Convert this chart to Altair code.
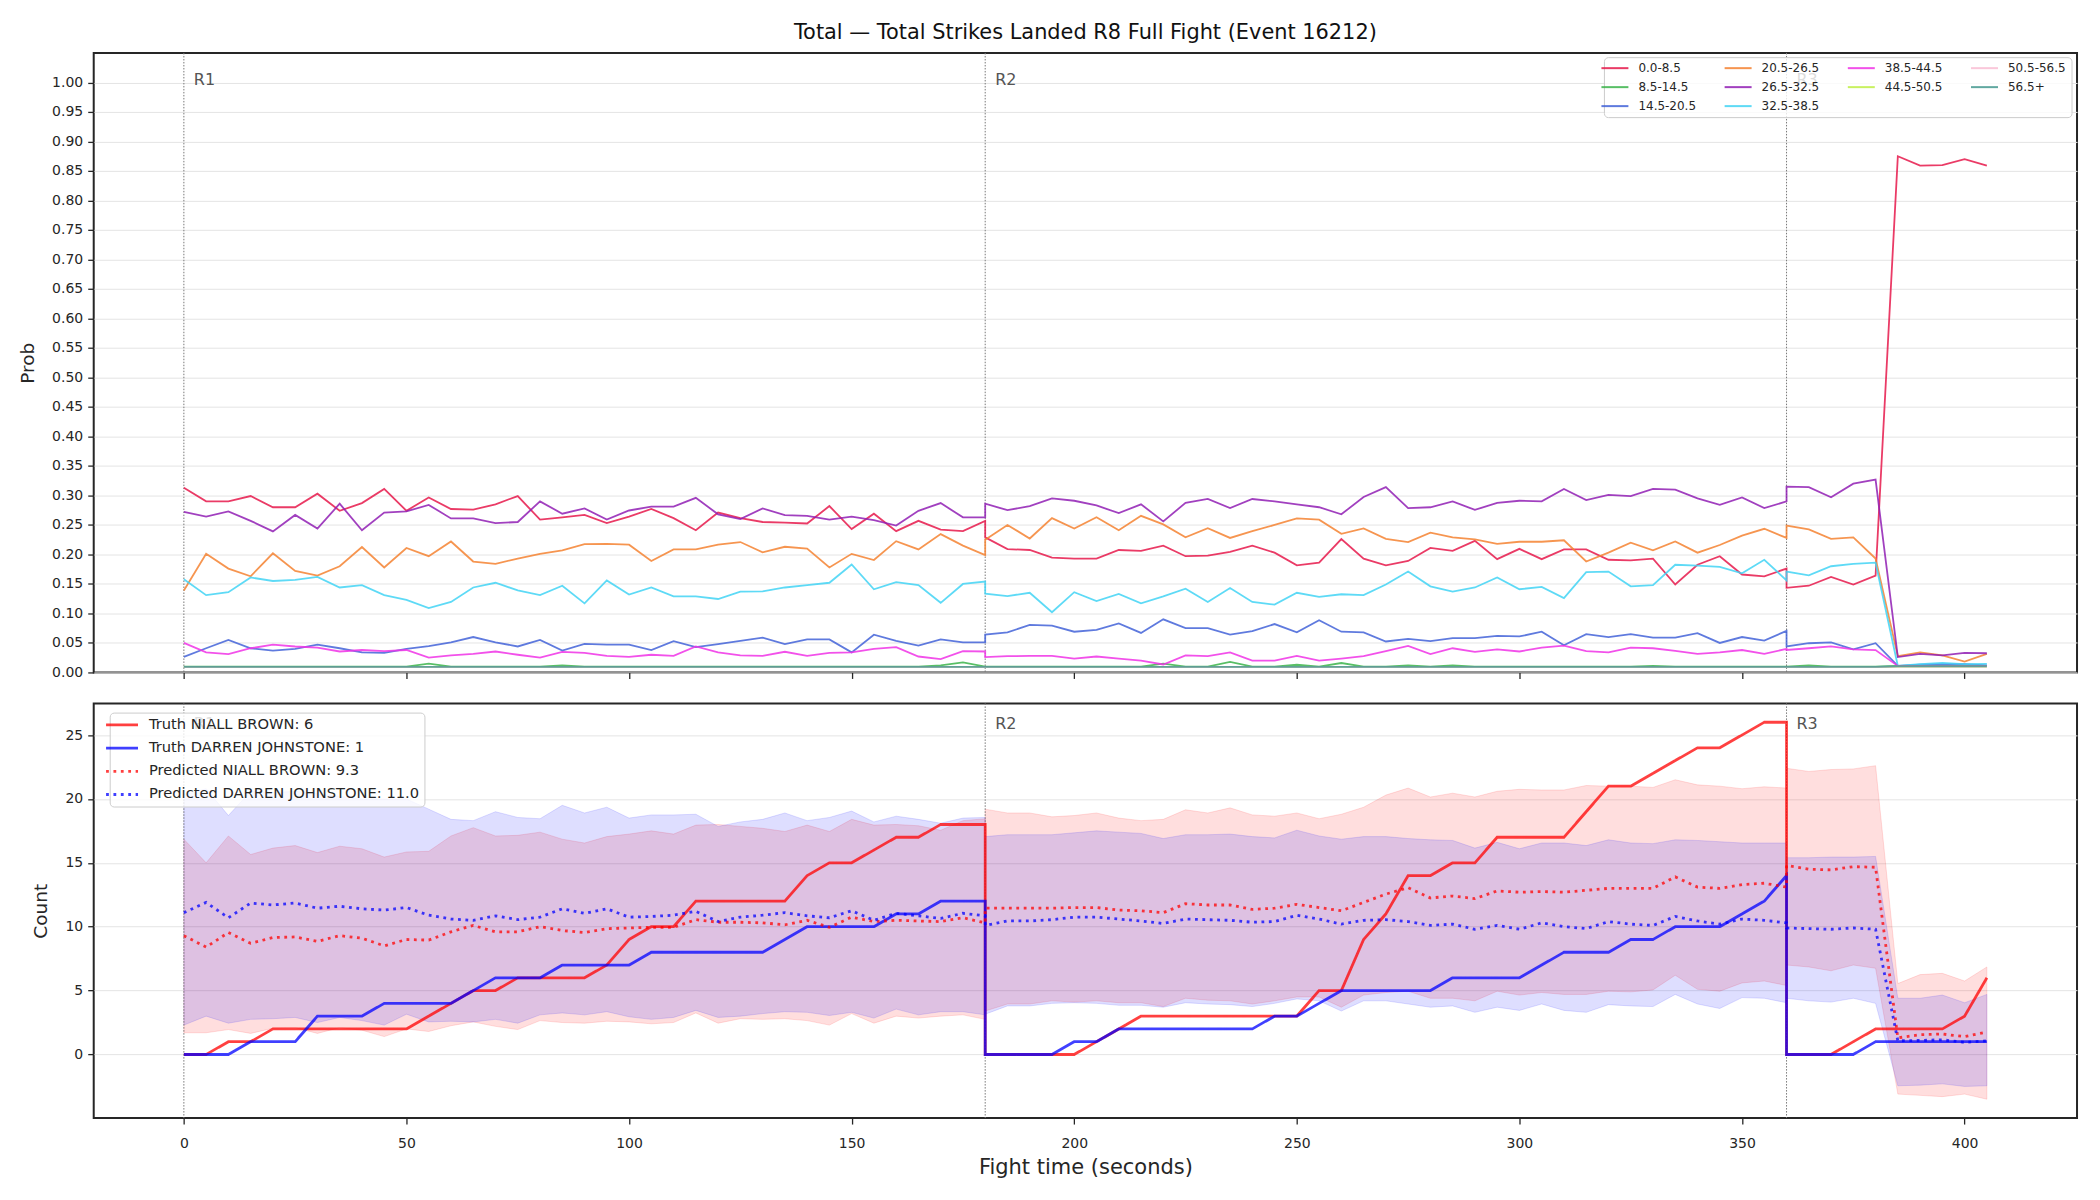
import altair as alt
import pandas as pd

FONT = "DejaVu Sans"
TITLE = "Total \u2014 Total Strikes Landed R8 Full Fight (Event 16212)"

# ---------------- sample grid (seconds) ----------------
T_R1 = list(range(0, 181, 5))      # 37 samples
T_R2 = list(range(180, 361, 5))    # 37 samples
T_R3 = list(range(360, 406, 5))    # 10 samples
TIMES = T_R1 + T_R2 + T_R3
ROUND_OF = ["R1"] * len(T_R1) + ["R2"] * len(T_R2) + ["R3"] * len(T_R3)

ROUND_STARTS = [0, 180, 360]
ROUND_NAMES = ["R1", "R2", "R3"]
X_TICKS = [0, 50, 100, 150, 200, 250, 300, 350, 400]
PROB_TICKS = [0.0, 0.05, 0.1, 0.15, 0.2, 0.25, 0.3, 0.35, 0.4, 0.45, 0.5, 0.55, 0.6,
              0.65, 0.7, 0.75, 0.8, 0.85, 0.9, 0.95, 1.0]
COUNT_TICKS = [0, 5, 10, 15, 20, 25]

# ---------------- top panel: bin probabilities ----------------
BIN_LABELS = ["0.0-8.5", "8.5-14.5", "14.5-20.5", "20.5-26.5", "26.5-32.5",
              "32.5-38.5", "38.5-44.5", "44.5-50.5", "50.5-56.5", "56.5+"]
BIN_COLORS = ["#e6194b", "#3cb44b", "#4363d8", "#f58231", "#911eb4",
              "#42d4f4", "#f032e6", "#bfef45", "#fabed4", "#469990"]
# legend reads row by row (4 columns) so that the columns match the reference
LEGEND_ORDER = ["0.0-8.5", "20.5-26.5", "38.5-44.5", "50.5-56.5",
                "8.5-14.5", "26.5-32.5", "44.5-50.5", "56.5+",
                "14.5-20.5", "32.5-38.5"]

P_0_8 = ([0.313, 0.290, 0.290, 0.299, 0.280, 0.280, 0.303, 0.274, 0.287, 0.311, 0.274, 0.2965, 0.277,
          0.276, 0.285, 0.299, 0.259, 0.263, 0.267, 0.253, 0.264, 0.277, 0.2615, 0.241, 0.271, 0.2615,
          0.255, 0.254, 0.2525, 0.282, 0.243, 0.269, 0.2395, 0.257, 0.242, 0.2395, 0.257]
         + [0.229, 0.209, 0.2075, 0.1945, 0.193, 0.193, 0.2075, 0.206, 0.215, 0.197, 0.198, 0.2045, 0.215,
            0.203, 0.1815, 0.186, 0.226, 0.193, 0.1815, 0.189, 0.211, 0.206, 0.223, 0.192, 0.2095, 0.192,
            0.2085, 0.2085, 0.191, 0.190, 0.193, 0.149, 0.1825, 0.197, 0.166, 0.163, 0.176]
         + [0.1435, 0.147, 0.162, 0.149, 0.164, 0.875, 0.859, 0.860, 0.870, 0.859])
P_8_14 = ([0.010, 0.010, 0.010, 0.010, 0.010, 0.010, 0.010, 0.010, 0.010, 0.010, 0.010, 0.015, 0.010,
           0.010, 0.010, 0.010, 0.010, 0.012, 0.010, 0.010, 0.010, 0.010, 0.010, 0.010, 0.010, 0.010,
           0.010, 0.010, 0.010, 0.010, 0.010, 0.010, 0.010, 0.010, 0.012, 0.017, 0.010]
          + [0.010, 0.010, 0.010, 0.010, 0.010, 0.010, 0.010, 0.010, 0.015, 0.010, 0.010, 0.018, 0.010,
             0.010, 0.013, 0.010, 0.016, 0.010, 0.010, 0.012, 0.010, 0.012, 0.010, 0.010, 0.010, 0.010,
             0.010, 0.010, 0.010, 0.010, 0.011, 0.010, 0.010, 0.010, 0.010, 0.010, 0.010]
          + [0.010, 0.012, 0.010, 0.010, 0.010, 0.011, 0.011, 0.011, 0.011, 0.011])
P_14_20 = ([0.0265, 0.041, 0.055, 0.041, 0.037, 0.040, 0.047, 0.041, 0.034, 0.033, 0.040, 0.0445, 0.051,
            0.060, 0.051, 0.044, 0.055, 0.037, 0.0485, 0.047, 0.047, 0.038, 0.053, 0.043, 0.048, 0.0535,
            0.059, 0.048, 0.056, 0.056, 0.034, 0.064, 0.0535, 0.0455, 0.056, 0.051, 0.051]
           + [0.064, 0.068, 0.0805, 0.0795, 0.069, 0.072, 0.083, 0.067, 0.090, 0.075, 0.075, 0.064, 0.070,
              0.082, 0.068, 0.0885, 0.069, 0.068, 0.0525, 0.057, 0.053, 0.058, 0.058, 0.062, 0.061, 0.069,
              0.046, 0.065, 0.060, 0.065, 0.059, 0.059, 0.0665, 0.050, 0.060, 0.054, 0.0705]
           + [0.044, 0.0495, 0.051, 0.039, 0.0495, 0.011, 0.013, 0.014, 0.014, 0.012])
P_20_26 = ([0.139, 0.201, 0.176, 0.163, 0.202, 0.172, 0.164, 0.180, 0.2125, 0.178, 0.211, 0.197, 0.222,
            0.188, 0.184, 0.193, 0.201, 0.207, 0.2175, 0.218, 0.2165, 0.189, 0.2085, 0.2085, 0.2165, 0.221,
            0.2035, 0.213, 0.210, 0.178, 0.201, 0.1905, 0.2225, 0.2085, 0.2345, 0.215, 0.199]
           + [0.225, 0.250, 0.227, 0.2615, 0.244, 0.263, 0.241, 0.2655, 0.251, 0.229, 0.2445, 0.228, 0.2395,
              0.250, 0.261, 0.259, 0.235, 0.244, 0.2265, 0.221, 0.237, 0.229, 0.2255, 0.218, 0.2215, 0.2215,
              0.224, 0.188, 0.203, 0.220, 0.207, 0.222, 0.203, 0.216, 0.232, 0.2435, 0.228]
           + [0.249, 0.2425, 0.2265, 0.229, 0.193, 0.0275, 0.034, 0.029, 0.0185, 0.0315])
P_26_32 = ([0.272, 0.264, 0.273, 0.257, 0.239, 0.267, 0.244, 0.286, 0.241, 0.271, 0.273, 0.284, 0.261,
            0.261, 0.253, 0.255, 0.290, 0.269, 0.278, 0.259, 0.2745, 0.281, 0.281, 0.296, 0.268, 0.260,
            0.278, 0.2665, 0.2655, 0.259, 0.264, 0.258, 0.249, 0.274, 0.287, 0.263, 0.263]
           + [0.286, 0.275, 0.282, 0.295, 0.291, 0.283, 0.270, 0.285, 0.256, 0.2875, 0.294, 0.2785, 0.294,
              0.290, 0.285, 0.280, 0.268, 0.2975, 0.314, 0.2785, 0.280, 0.290, 0.2755, 0.2875, 0.291, 0.290,
              0.311, 0.292, 0.301, 0.299, 0.311, 0.310, 0.295, 0.284, 0.2965, 0.2785, 0.290]
           + [0.315, 0.314, 0.297, 0.320, 0.327, 0.026, 0.0315, 0.029, 0.033, 0.0325])
P_32_38 = ([0.158, 0.131, 0.136, 0.161, 0.155, 0.157, 0.162, 0.144, 0.148, 0.131, 0.123, 0.109, 0.1195,
            0.144, 0.152, 0.139, 0.131, 0.147, 0.117, 0.156, 0.132, 0.144, 0.129, 0.129, 0.1245, 0.137,
            0.1375, 0.144, 0.148, 0.152, 0.183, 0.141, 0.153, 0.148, 0.118, 0.150, 0.154]
           + [0.1335, 0.1295, 0.135, 0.102, 0.136, 0.121, 0.133, 0.117, 0.129, 0.142, 0.1195, 0.143, 0.1195,
              0.115, 0.135, 0.128, 0.1325, 0.131, 0.149, 0.171, 0.146, 0.137, 0.144, 0.161, 0.141, 0.145,
              0.126, 0.170, 0.171, 0.146, 0.148, 0.1825, 0.181, 0.179, 0.168, 0.191, 0.156]
           + [0.171, 0.1645, 0.180, 0.184, 0.186, 0.011, 0.014, 0.016, 0.014, 0.0145])
P_38_44 = ([0.050, 0.034, 0.031, 0.041, 0.047, 0.044, 0.042, 0.0355, 0.038, 0.036, 0.038, 0.025, 0.029,
            0.0315, 0.0355, 0.030, 0.025, 0.035, 0.033, 0.028, 0.0265, 0.030, 0.028, 0.044, 0.034, 0.029,
            0.028, 0.035, 0.028, 0.033, 0.034, 0.040, 0.043, 0.027, 0.0225, 0.036, 0.0355]
           + [0.026, 0.0275, 0.028, 0.028, 0.0235, 0.027, 0.0235, 0.020, 0.0135, 0.029, 0.0275, 0.034, 0.020,
              0.020, 0.028, 0.020, 0.0235, 0.0275, 0.036, 0.045, 0.031, 0.041, 0.035, 0.039, 0.0355, 0.042,
              0.0455, 0.036, 0.034, 0.042, 0.041, 0.0365, 0.0315, 0.034, 0.038, 0.0315, 0.040]
           + [0.038, 0.041, 0.044, 0.039, 0.038, 0.011, 0.011, 0.011, 0.011, 0.011])
P_44_50 = ([0.009, 0.009, 0.009, 0.009, 0.009, 0.009, 0.009, 0.009, 0.009, 0.009, 0.009, 0.009, 0.009,
            0.009, 0.009, 0.009, 0.009, 0.009, 0.009, 0.009, 0.009, 0.009, 0.009, 0.009, 0.009, 0.009,
            0.009, 0.009, 0.009, 0.009, 0.009, 0.009, 0.009, 0.009, 0.009, 0.009, 0.009]
           + [0.009, 0.009, 0.009, 0.009, 0.009, 0.009, 0.009, 0.009, 0.009, 0.009, 0.009, 0.009, 0.009,
              0.009, 0.009, 0.009, 0.009, 0.009, 0.009, 0.009, 0.009, 0.009, 0.009, 0.009, 0.009, 0.009,
              0.009, 0.009, 0.009, 0.009, 0.009, 0.009, 0.009, 0.009, 0.009, 0.009, 0.009]
           + [0.009, 0.009, 0.009, 0.009, 0.009, 0.010, 0.010, 0.010, 0.010, 0.010])
P_50_56 = ([0.009, 0.009, 0.009, 0.009, 0.009, 0.009, 0.009, 0.009, 0.009, 0.009, 0.009, 0.009, 0.009,
            0.009, 0.009, 0.009, 0.009, 0.009, 0.009, 0.009, 0.009, 0.009, 0.009, 0.009, 0.009, 0.009,
            0.009, 0.009, 0.009, 0.009, 0.009, 0.009, 0.009, 0.009, 0.009, 0.009, 0.009]
           + [0.009, 0.009, 0.009, 0.009, 0.009, 0.009, 0.009, 0.009, 0.009, 0.009, 0.009, 0.009, 0.009,
              0.009, 0.009, 0.009, 0.009, 0.009, 0.009, 0.009, 0.009, 0.009, 0.009, 0.009, 0.009, 0.009,
              0.009, 0.009, 0.009, 0.009, 0.009, 0.009, 0.009, 0.009, 0.009, 0.009, 0.009]
           + [0.009, 0.009, 0.009, 0.009, 0.009, 0.010, 0.010, 0.010, 0.010, 0.010])
P_56_UP = ([0.0095, 0.0095, 0.0095, 0.0095, 0.0095, 0.0095, 0.0095, 0.0095, 0.0095, 0.0095, 0.0095,
            0.0095, 0.0095, 0.0095, 0.0095, 0.0095, 0.0095, 0.0095, 0.0095, 0.0095, 0.0095, 0.0095,
            0.0095, 0.0095, 0.0095, 0.0095, 0.0095, 0.0095, 0.0095, 0.0095, 0.0095, 0.0095, 0.0095,
            0.0095, 0.0095, 0.0095, 0.0095]
           + [0.0095, 0.0095, 0.0095, 0.0095, 0.0095, 0.0095, 0.0095, 0.0095, 0.0095, 0.0095, 0.0095,
              0.0095, 0.0095, 0.0095, 0.0095, 0.0095, 0.0095, 0.0095, 0.0095, 0.0095, 0.0095, 0.0095,
              0.0095, 0.0095, 0.0095, 0.0095, 0.0095, 0.0095, 0.0095, 0.0095, 0.0095, 0.0095, 0.0095,
              0.0095, 0.0095, 0.0095, 0.0095]
           + [0.0095, 0.0095, 0.0095, 0.0095, 0.0095, 0.0105, 0.0105, 0.0105, 0.0105, 0.0105])
PROB_SERIES = [P_0_8, P_8_14, P_14_20, P_20_26, P_26_32, P_32_38, P_38_44, P_44_50, P_50_56, P_56_UP]

# ---------------- bottom panel: cumulative counts ----------------
SERIES_NAMES = ["Truth NIALL BROWN: 6", "Truth DARREN JOHNSTONE: 1",
                "Predicted NIALL BROWN: 9.3", "Predicted DARREN JOHNSTONE: 11.0"]

TRUTH_A = ([0, 0, 1, 1, 2, 2, 2, 2, 2, 2, 2, 3, 4, 5, 5, 6, 6, 6, 6, 7, 9, 10, 10, 12, 12, 12, 12, 12,
            14, 15, 15, 16, 17, 17, 18, 18, 18]
           + [0, 0, 0, 0, 0, 1, 2, 3, 3, 3, 3, 3, 3, 3, 3, 5, 5, 9, 11, 14, 14, 15, 15, 17, 17, 17, 17,
              19, 21, 21, 22, 23, 24, 24, 25, 26, 26]
           + [0, 0, 0, 1, 2, 2, 2, 2, 3, 6])
TRUTH_B = ([0, 0, 0, 1, 1, 1, 3, 3, 3, 4, 4, 4, 4, 5, 6, 6, 6, 7, 7, 7, 7, 8, 8, 8, 8, 8, 8, 9,
            10, 10, 10, 10, 11, 11, 12, 12, 12]
           + [0, 0, 0, 0, 1, 1, 2, 2, 2, 2, 2, 2, 2, 3, 3, 4, 5, 5, 5, 5, 5, 6, 6, 6, 6, 7, 8, 8, 8,
              9, 9, 10, 10, 10, 11, 12, 14]
           + [0, 0, 0, 0, 1, 1, 1, 1, 1, 1])
PRED_A = ([9.3, 8.4, 9.55, 8.7, 9.15, 9.2, 8.85, 9.3, 9.1, 8.5, 9.0, 8.95, 9.6, 10.1, 9.6, 9.6, 10.0,
           9.7, 9.55, 9.85, 9.9, 9.95, 9.95, 10.55, 10.35, 10.35, 10.3, 10.15, 10.5, 9.95, 10.75, 10.4,
           10.5, 10.45, 10.4, 10.7, 10.3]
          + [11.45, 11.45, 11.45, 11.45, 11.5, 11.5, 11.3, 11.25, 11.1, 11.8, 11.7, 11.7, 11.35, 11.45,
             11.75, 11.5, 11.25, 11.9, 12.55, 13.05, 12.25, 12.4, 12.2, 12.8, 12.7, 12.75, 12.7, 12.85,
             13.0, 13.0, 13.0, 13.9, 13.1, 13.0, 13.3, 13.4, 13.1]
          + [14.8, 14.5, 14.45, 14.7, 14.65, 1.3, 1.55, 1.6, 1.4, 1.75])
PRED_B = ([11.1, 11.9, 10.7, 11.85, 11.7, 11.85, 11.45, 11.6, 11.4, 11.3, 11.5, 10.9, 10.6, 10.5,
           10.85, 10.55, 10.75, 11.4, 11.05, 11.4, 10.75, 10.8, 10.9, 11.2, 10.4, 10.75, 10.9, 11.1,
           10.85, 10.7, 11.25, 10.5, 11.05, 10.85, 10.65, 11.05, 10.85]
          + [10.1, 10.45, 10.45, 10.55, 10.75, 10.75, 10.6, 10.45, 10.25, 10.6, 10.55, 10.5, 10.35, 10.4,
             10.9, 10.6, 10.2, 10.5, 10.55, 10.4, 10.1, 10.2, 9.8, 10.1, 9.8, 10.3, 10.0, 9.85, 10.4,
             10.2, 10.1, 10.8, 10.45, 10.2, 10.6, 10.5, 10.3]
          + [9.9, 9.85, 9.8, 9.9, 9.8, 1.07, 1.1, 1.15, 0.95, 1.07])
BAND_A_HI = ([16.85, 15.0, 17.1, 15.65, 16.15, 16.35, 15.8, 16.3, 16.1, 15.45, 15.85, 15.9, 17.1, 17.75,
              17.1, 17.15, 17.4, 16.85, 16.55, 17.05, 17.25, 17.5, 17.25, 17.95, 18.0, 17.85, 17.7,
              17.45, 17.95, 17.45, 18.4, 17.95, 18.0, 17.9, 17.55, 18.3, 18.45]
             + [19.2, 18.9, 18.9, 18.6, 18.7, 18.9, 18.5, 18.3, 18.4, 19.15, 18.9, 19.3, 18.75, 18.65,
                18.9, 18.45, 18.8, 19.35, 20.3, 20.85, 20.15, 20.45, 20.15, 20.6, 20.75, 20.7, 20.7,
                21.05, 21.0, 21.0, 20.9, 21.5, 21.1, 21.0, 20.8, 20.95, 20.85]
             + [22.4, 22.15, 22.3, 22.35, 22.6, 5.55, 6.25, 6.35, 5.75, 6.85])
BAND_A_LO = ([1.7, 1.7, 1.95, 1.65, 2.05, 2.1, 1.65, 2.1, 1.9, 1.4, 2.0, 1.8, 2.25, 2.55, 2.2, 1.95,
              2.65, 2.5, 2.45, 2.6, 2.55, 2.4, 2.5, 3.25, 2.45, 2.8, 2.75, 2.8, 2.65, 2.3, 3.2, 2.45,
              3.0, 2.85, 3.0, 3.1, 2.75]
             + [3.4, 3.95, 3.95, 4.2, 4.1, 4.2, 4.05, 4.05, 3.75, 4.4, 4.25, 4.2, 3.95, 4.2, 4.5, 4.5,
                3.7, 4.65, 4.85, 4.95, 4.4, 4.4, 4.2, 4.95, 4.65, 4.85, 4.7, 4.7, 4.95, 4.9, 5.05, 6.2,
                5.1, 4.95, 5.6, 5.75, 5.4]
             + [7.0, 6.85, 6.55, 7.0, 6.75, -3.1, -3.2, -3.3, -3.1, -3.5])
BAND_B_HI = ([20.3, 20.8, 18.7, 20.6, 20.5, 20.6, 20.4, 20.2, 20.0, 20.0, 20.0, 19.2, 18.4, 18.3, 19.0,
              18.55, 18.45, 19.5, 18.9, 19.35, 18.5, 18.75, 18.75, 18.8, 17.85, 18.2, 18.4, 18.9, 18.3,
              18.55, 19.05, 18.2, 18.65, 18.4, 18.1, 18.5, 18.55]
             + [17.05, 17.2, 17.2, 17.2, 17.35, 17.5, 17.4, 17.3, 16.9, 17.2, 17.2, 17.25, 17.05, 16.95,
                17.55, 17.1, 16.85, 17.05, 17.05, 16.9, 16.8, 16.75, 16.15, 16.6, 16.1, 16.55, 16.55,
                16.35, 16.8, 16.55, 16.5, 16.8, 16.75, 16.65, 16.55, 16.55, 16.55]
             + [15.4, 15.4, 15.45, 15.45, 15.5, 4.4, 4.4, 4.65, 4.05, 4.7])
BAND_B_LO = ([2.3, 3.0, 2.45, 2.75, 2.8, 2.9, 2.5, 2.9, 2.65, 2.3, 3.15, 2.55, 2.6, 2.55, 2.75, 2.45,
              3.1, 3.25, 3.1, 3.35, 2.95, 2.75, 2.9, 3.45, 2.9, 3.0, 3.2, 3.35, 3.3, 3.05, 3.3, 2.85,
              3.55, 3.1, 3.35, 3.35, 3.1]
             + [3.15, 3.8, 3.8, 4.0, 4.05, 4.0, 3.85, 3.85, 3.7, 4.05, 3.95, 3.9, 3.75, 4.0, 4.35, 4.2,
                3.4, 4.2, 4.2, 3.95, 3.7, 3.8, 3.3, 3.7, 3.45, 3.95, 3.45, 3.3, 3.9, 3.8, 3.75, 4.7,
                3.95, 3.6, 4.45, 4.4, 4.05]
             + [4.4, 4.2, 4.1, 4.4, 4.0, -2.45, -2.4, -2.3, -2.5, -2.45])
COUNT_SERIES = [TRUTH_A, TRUTH_B, PRED_A, PRED_B]

# ---------------- styling constants ----------------
RED = "#ff0000"
BLUE = "#0000ff"
INK = "#262626"
GRID = "#e4e4e4"

# ---------------- data frames ----------------
top_rows = []
for lab, vals in zip(BIN_LABELS, PROB_SERIES):
    for i, (t, v) in enumerate(zip(TIMES, vals)):
        top_rows.append({"t": t, "p": v, "bin": lab, "idx": i})
top_df = pd.DataFrame(top_rows)

bot_rows = []
for name, vals in zip(SERIES_NAMES, COUNT_SERIES):
    for i, (t, v) in enumerate(zip(TIMES, vals)):
        bot_rows.append({"t": t, "v": v, "series": name, "idx": i})
bot_df = pd.DataFrame(bot_rows)

band_df = pd.DataFrame({"t": TIMES, "rnd": ROUND_OF,
                        "a_lo": BAND_A_LO, "a_hi": BAND_A_HI,
                        "b_lo": BAND_B_LO, "b_hi": BAND_B_HI})
round_df = pd.DataFrame({"t": ROUND_STARTS, "label": ROUND_NAMES})

# ---------------- scales / axes ----------------
W = 1985
H_TOP = 620
H_BOT = 415
x_scale = alt.Scale(domain=[-20.25, 425.25], nice=False, zero=False)
p_scale = alt.Scale(domain=[0, 1.05], nice=False, zero=False)
c_scale = alt.Scale(domain=[-4.975, 27.475], nice=False, zero=False)

common_axis = dict(labelFont=FONT, labelFontSize=14, labelColor=INK, titleFont=FONT,
                   titleColor=INK, titleFontWeight="normal", tickColor=INK, tickSize=6,
                   tickWidth=1.3, domain=False)

x_axis_top = alt.Axis(values=X_TICKS, labels=False, title=None, grid=False, labelPadding=5, **common_axis)
x_axis_bot = alt.Axis(values=X_TICKS, title="Fight time (seconds)", grid=False, labelPadding=12,
                      titleFontSize=21, titlePadding=6, **common_axis)
p_axis = alt.Axis(values=PROB_TICKS, format=".2f", title="Prob", grid=True, gridColor=GRID,
                  labelPadding=5, titleFontSize=18.5, titlePadding=14.5, **common_axis)
c_axis = alt.Axis(values=COUNT_TICKS, format="d", title="Count", grid=True, gridColor=GRID,
                  labelPadding=5, titleFontSize=18.5, titlePadding=14.5, **common_axis)

XT = alt.X("t:Q", scale=x_scale, axis=x_axis_top, title=None)
XB = alt.X("t:Q", scale=x_scale, axis=x_axis_bot, title="Fight time (seconds)")

# ---------------- top panel ----------------
top_legend = alt.Legend(
    title=None, orient="none", legendX=1511.5, legendY=4.2, columns=4, direction="horizontal",
    symbolType="M-2.7,0L2.7,0", symbolSize=100, symbolStrokeWidth=2,
    labelFont=FONT, labelFontSize=12, labelColor=INK, labelOffset=17.5, labelLimit=300,
    columnPadding=23.3, rowPadding=7, padding=5,
    fillColor="rgba(255,255,255,0.8)", strokeColor="#cccccc", cornerRadius=4,
)

top_lines = alt.Chart(top_df).mark_line(strokeWidth=1.8, opacity=0.85).encode(
    x=XT,
    y=alt.Y("p:Q", scale=p_scale, axis=p_axis, title="Prob"),
    color=alt.Color("bin:N", scale=alt.Scale(domain=LEGEND_ORDER,
                                             range=[BIN_COLORS[BIN_LABELS.index(b)] for b in LEGEND_ORDER]),
                    legend=top_legend),
    order=alt.Order("idx:Q"),
)
top_rules = alt.Chart(round_df).mark_rule(color="#777777", strokeWidth=1, strokeDash=[1.5, 1.5]).encode(x=XT)
top_text = alt.Chart(round_df).mark_text(align="left", baseline="top", dx=10, font=FONT, fontSize=16,
                                         color="#555555").encode(
    x=XT, y=alt.YDatum(1.0185, scale=p_scale, axis=p_axis, title="Prob"), text="label:N")

top = alt.layer(top_rules, top_lines, top_text).properties(
    width=W, height=H_TOP,
    title=alt.Title(TITLE, font=FONT, fontSize=20.9, fontWeight="normal", color="#111111",
                    anchor="middle", frame="group", offset=9.4),
)

# ---------------- bottom panel ----------------
bot_legend = alt.Legend(
    title=None, orient="none", legendX=16, legendY=9.2,
    symbolType="M-3.2,0L3.2,0", symbolSize=100, symbolStrokeWidth=2.8,
    labelFont=FONT, labelFontSize=14.7, labelColor=INK, labelOffset=19.6, labelLimit=600,
    rowPadding=7.2, padding=5,
    fillColor="rgba(255,255,255,0.8)", strokeColor="#cccccc", cornerRadius=4,
)

band_a = alt.Chart(band_df).mark_area(color=RED, fillOpacity=0.13, stroke=RED, strokeOpacity=0.13,
                                      strokeWidth=1).encode(
    x=XB, y=alt.Y("a_lo:Q", scale=c_scale, axis=c_axis, title="Count"), y2="a_hi:Q", detail="rnd:N")
band_b = alt.Chart(band_df).mark_area(color=BLUE, fillOpacity=0.13, stroke=BLUE, strokeOpacity=0.13,
                                      strokeWidth=1).encode(
    x=XB, y=alt.Y("b_lo:Q", scale=c_scale, axis=c_axis, title="Count"), y2="b_hi:Q", detail="rnd:N")
bot_rules = alt.Chart(round_df).mark_rule(color="#777777", strokeWidth=1, strokeDash=[1.5, 1.5]).encode(x=XB)
bot_lines = alt.Chart(bot_df).mark_line(strokeWidth=2.8).encode(
    x=XB,
    y=alt.Y("v:Q", scale=c_scale, axis=c_axis, title="Count"),
    color=alt.Color("series:N", scale=alt.Scale(domain=SERIES_NAMES, range=[RED, BLUE, RED, BLUE]),
                    legend=bot_legend),
    strokeDash=alt.StrokeDash("series:N", scale=alt.Scale(domain=SERIES_NAMES,
                                                          range=[[1, 0], [1, 0], [2.8, 4.6], [2.8, 4.6]]),
                              legend=bot_legend),
    opacity=alt.Opacity("series:N", scale=alt.Scale(domain=SERIES_NAMES, range=[0.75, 0.75, 0.6, 0.6]),
                        legend=bot_legend),
    order=alt.Order("idx:Q"),
)
bot_text = alt.Chart(round_df).mark_text(align="left", baseline="top", dx=10, font=FONT, fontSize=16,
                                         color="#555555").encode(
    x=XB, y=alt.YDatum(26.5, scale=c_scale, axis=c_axis, title="Count"), text="label:N")

bottom = alt.layer(band_a, band_b, bot_rules, bot_lines, bot_text).properties(width=W, height=H_BOT)

chart = alt.vconcat(top, bottom, spacing=31, bounds="flush").resolve_scale(
    color="independent", strokeDash="independent", opacity="independent", x="shared"
).resolve_legend(color="independent", strokeDash="independent", opacity="independent").properties(
    padding={"left": 16.8, "top": 20.5, "right": 22, "bottom": 20},
    background="white",
).configure_view(stroke=INK, strokeWidth=2).configure_axis(labelFont=FONT, titleFont=FONT)

chart.save("out.html", embed_options={"renderer": "svg", "actions": False})
